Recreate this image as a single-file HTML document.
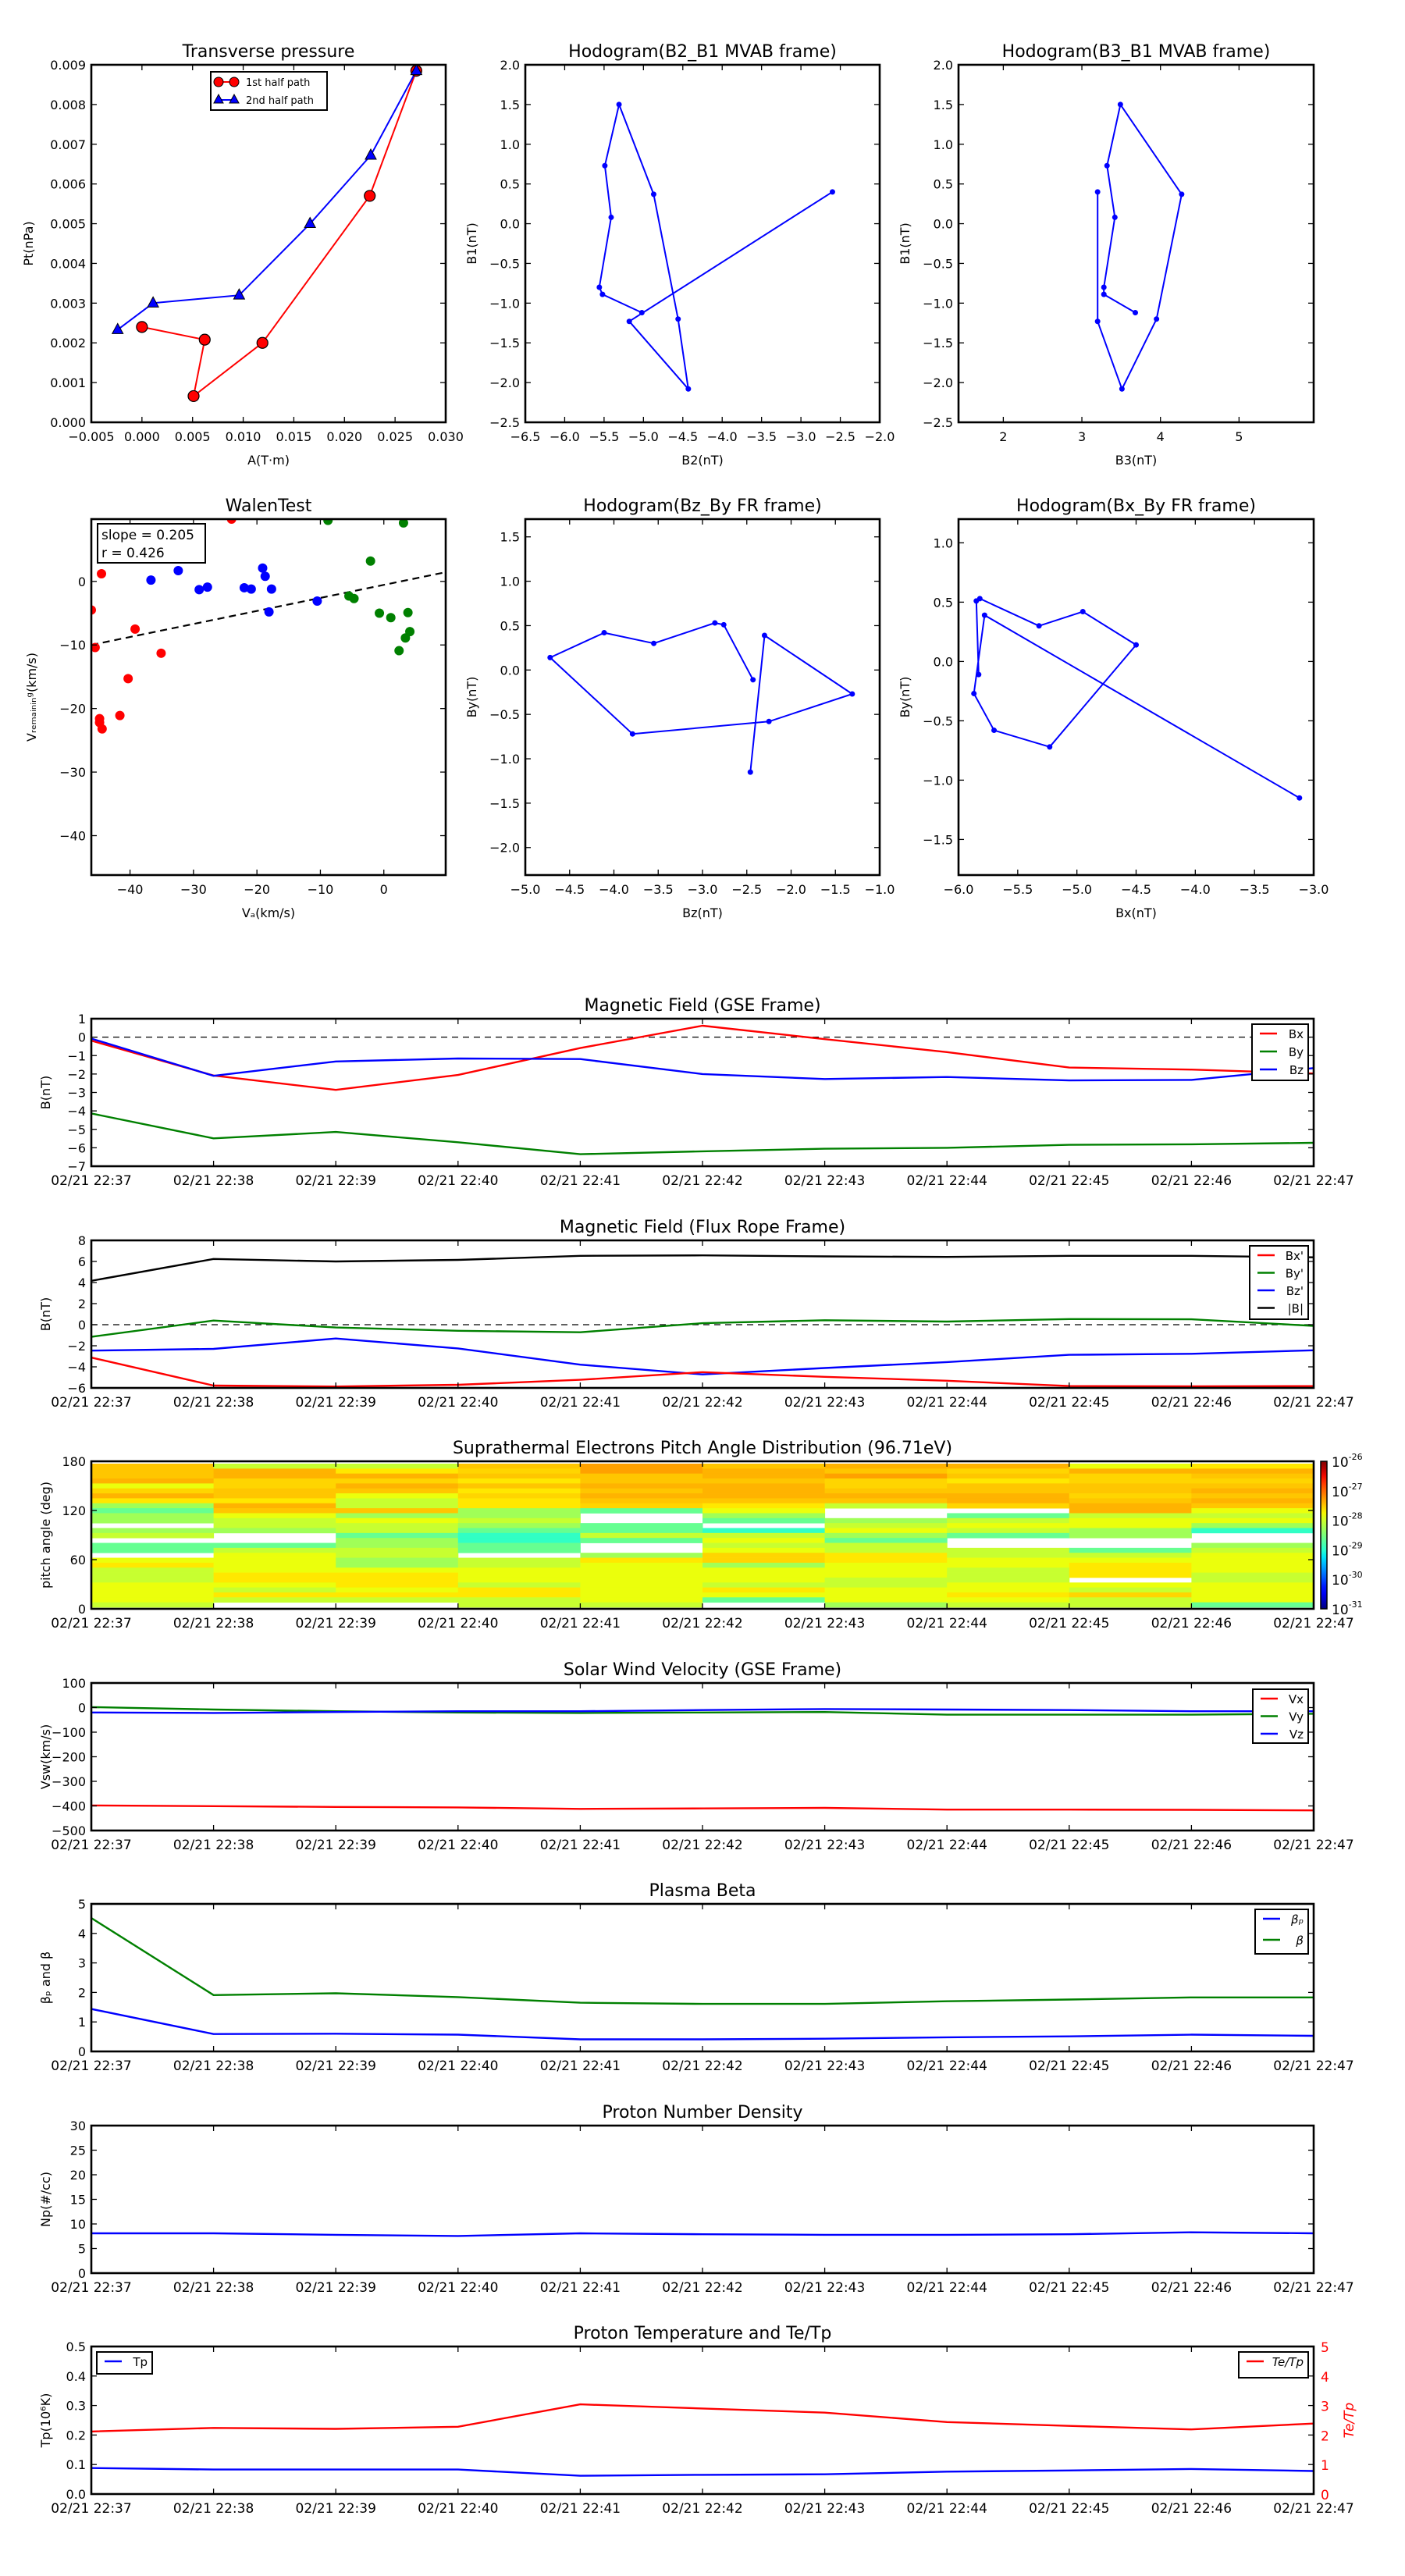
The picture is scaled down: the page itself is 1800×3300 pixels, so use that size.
<!DOCTYPE html>
<html><head><meta charset="utf-8"><style>
html,body{margin:0;padding:0;background:#fff;}
svg{display:block;font-family:"DejaVu Sans","Liberation Sans",sans-serif;}
</style></head><body>
<svg id="fig" width="1800" height="3300" viewBox="0 0 1800 3300" xmlns="http://www.w3.org/2000/svg"></svg>
<script>
// ---------- data ----------
const times = ['02/21 22:37','02/21 22:38','02/21 22:39','02/21 22:40','02/21 22:41','02/21 22:42','02/21 22:43','02/21 22:44','02/21 22:45','02/21 22:46','02/21 22:47'];
// transverse pressure
const tpA1 = [0.0000,0.0062,0.0051,0.0119,0.0225,0.0271];
const tpP1 = [0.00240,0.00208,0.00066,0.00200,0.00570,0.00885];
const tpA2 = [0.0271,0.0226,0.0166,0.0096,0.0011,-0.0024];
const tpP2 = [0.00885,0.00672,0.00500,0.00320,0.00300,0.00233];
// MVAB hodogram
const mvB1 = [0.40,-1.23,-2.08,-1.20,0.37,1.50,0.73,0.08,-0.80,-0.89,-1.12];
const mvB2 = [-2.60,-5.18,-4.43,-4.56,-4.87,-5.31,-5.49,-5.41,-5.56,-5.52,-5.02];
const mvB3 = [3.20,3.20,3.51,3.95,4.27,3.49,3.32,3.42,3.28,3.28,3.68];
// Walen test
const wRedVa = [-46.1,-45.5,-44.5,-39.2,-35.1,-40.3,-41.6,-44.8,-44.8,-44.4,-24.0];
const wRedVr = [-4.5,-10.4,1.2,-7.5,-11.3,-15.3,-21.1,-21.6,-22.2,-23.2,9.8];
const wGrnVa = [-8.8,3.1,-2.1,-5.5,-4.7,-0.7,1.1,3.8,4.1,3.4,2.4];
const wGrnVr = [9.6,9.2,3.2,-2.3,-2.7,-5.0,-5.7,-4.9,-7.9,-8.9,-10.9];
const wBluVa = [-36.7,-32.4,-29.1,-27.8,-22.0,-20.9,-19.1,-18.7,-17.7,-18.1,-10.5];
const wBluVr = [0.2,1.7,-1.3,-0.9,-1.0,-1.2,2.1,0.8,-1.2,-4.8,-3.1];
const walenSlope = 0.205;
const walenIntercept = -0.55;
// GSE field
const gseBx = [-0.19,-2.08,-2.86,-2.05,-0.59,0.62,-0.11,-0.81,-1.65,-1.76,-1.97];
const gseBy = [-4.14,-5.49,-5.14,-5.70,-6.35,-6.19,-6.05,-6.00,-5.84,-5.81,-5.73];
const gseBz = [-0.08,-2.10,-1.32,-1.16,-1.19,-2.00,-2.27,-2.16,-2.35,-2.32,-1.68];
// flux rope frame
const frBx = [-3.12,-5.78,-5.87,-5.70,-5.23,-4.50,-4.95,-5.32,-5.82,-5.85,-5.83];
const frBy = [-1.15,0.39,-0.27,-0.58,-0.72,0.14,0.42,0.30,0.53,0.51,-0.11];
const frBz = [-2.46,-2.30,-1.31,-2.25,-3.79,-4.72,-4.11,-3.55,-2.86,-2.76,-2.43];
const frBt = [4.16,6.24,6.00,6.15,6.53,6.58,6.48,6.43,6.53,6.53,6.39];
// pitch angle distribution: per time column, rows from 180deg downward; code -> log10 flux
const padCols = [
 'oooOeYOygGggwglwGGweyllleeeel',
 'lOOYYooyOoellgwwGleeeeyyelylw',
 'lyOYOoellogellGggllggeyyyeylw',
 'oYoyoyYyygglgGccGGwlleeelyyll',
 'RRooOoOoYGwwGGlGwwgyeeeeeeeel',
 'oOOoOOOoyegGwcleleYYgeeelyeGw',
 'OoRYYoOolwwglegGllyyeeelleeeg',
 'OYoyooOOYwGlelGwwlleellleeyel',
 'eOYYooYoOOleeggwwGleyyywelYll',
 'yOoYoOoOoelegcwwgleeeelleeeeG'
];
const padCodes = {R:-27.3,O:-27.4,o:-27.5,Y:-27.58,y:-27.68,e:-27.82,l:-28.04,g:-28.28,G:-28.63,c:-28.95};
// solar wind
const vx = [-398,-401,-404,-406,-412,-410,-408,-415,-415,-416,-418];
const vy = [2,-8,-15,-20,-22,-20,-18,-29,-29,-29,-25];
const vz = [-20,-22,-18,-15,-15,-10,-6,-8,-10,-15,-15];
// plasma beta
const betaP = [1.44,0.59,0.60,0.57,0.41,0.41,0.43,0.48,0.51,0.57,0.53];
const betaT = [4.52,1.91,1.97,1.84,1.65,1.61,1.61,1.70,1.76,1.83,1.83];
// density
const np = [8.1,8.1,7.8,7.55,8.1,7.9,7.8,7.8,7.9,8.3,8.1];
// temperature
const tp = [0.088,0.083,0.083,0.083,0.062,0.065,0.067,0.076,0.080,0.085,0.078];
const teTp = [2.12,2.24,2.21,2.28,3.04,2.90,2.76,2.44,2.31,2.19,2.39];

// ---------- helpers ----------
const NS='http://www.w3.org/2000/svg';
const fig=document.getElementById('fig');
function mk(parent,tag,attrs,name,inter){
  const e=document.createElementNS(NS,tag);
  for(const k in attrs) e.setAttribute(k,attrs[k]);
  
  
  parent.appendChild(e);
  return e;
}
function txt(parent,x,y,s,size,anchor,name,extra){
  const a={x:x,y:y,'font-size':size,'text-anchor':anchor||'middle',fill:'#000'};
  if(extra) for(const k in extra) a[k]=extra[k];
  const t=mk(parent,'text',a,name);
  t.textContent=s;
  return t;
}
function fmt(v,d){const s=Math.abs(v).toFixed(d);return (v<-1e-12?'\u2212':'')+s;}
function jet(t){
  t=Math.max(0,Math.min(1,t));
  function seg(pts){for(let i=1;i<pts.length;i++){if(t<=pts[i][0]){const a=pts[i-1],b=pts[i];return a[1]+(b[1]-a[1])*(t-a[0])/(b[0]-a[0]);}}return pts[pts.length-1][1];}
  const r=seg([[0,0],[0.35,0],[0.66,1],[0.89,1],[1,0.5]]);
  const g=seg([[0,0],[0.125,0],[0.375,1],[0.64,1],[0.91,0],[1,0]]);
  const b=seg([[0,0.5],[0.11,1],[0.34,1],[0.65,0],[1,0]]);
  return 'rgb('+Math.round(r*255)+','+Math.round(g*255)+','+Math.round(b*255)+')';
}
function makeAxes(o){
  const g=mk(fig,'g',{},o.name);
  const sx=v=>o.x0+(v-o.xmin)/(o.xmax-o.xmin)*(o.x1-o.x0);
  const sy=v=>o.y1-(v-o.ymin)/(o.ymax-o.ymin)*(o.y1-o.y0);
  const clipId='clip-'+o.name;
  const cp=mk(g,'clipPath',{id:clipId},'clip');
  mk(cp,'rect',{x:o.x0,y:o.y0,width:o.x1-o.x0,height:o.y1-o.y0},'clip-rect');
  const plot=mk(g,'g',{'clip-path':'url(#'+clipId+')'},'plot-area');
  const frame=mk(g,'g',{},'axes-frame');
  const tl=7;
  o.xticks.forEach((v,i)=>{
    const x=sx(v);
    mk(frame,'line',{x1:x,x2:x,y1:o.y1,y2:o.y1-tl,stroke:'#000','stroke-width':1.3},'x-tick');
    mk(frame,'line',{x1:x,x2:x,y1:o.y0,y2:o.y0+tl,stroke:'#000','stroke-width':1.3},'x-tick-top');
    txt(frame,x,o.y1+24,o.xlabels[i],o.tickSize||16,'middle','x-tick-label');
  });
  o.yticks.forEach((v,i)=>{
    const y=sy(v);
    mk(frame,'line',{x1:o.x0,x2:o.x0+tl,y1:y,y2:y,stroke:'#000','stroke-width':1.3},'y-tick');
    mk(frame,'line',{x1:o.x1,x2:o.x1-tl,y1:y,y2:y,stroke:'#000','stroke-width':1.3},'y-tick-right');
    txt(frame,o.x0-7,y+6,o.ylabels[i],16,'end','y-tick-label');
  });
  if(o.title) txt(g,(o.x0+o.x1)/2,o.y0-10,o.title,22,'middle','chart-title');
  if(o.xtitle) txt(g,(o.x0+o.x1)/2,o.y1+54,o.xtitle,16,'middle','x-axis-title');
  if(o.ytitle){const yx=o.ytx, yy=(o.y0+o.y1)/2;txt(g,yx,yy,o.ytitle,16,'middle','y-axis-title',{transform:'rotate(-90 '+yx+' '+yy+')'});}
  return {g,plot,frame,sx,sy,o};
}
function finishFrame(A){
  const o=A.o;
  mk(A.g,'rect',{x:o.x0,y:o.y0,width:o.x1-o.x0,height:o.y1-o.y0,fill:'none',stroke:'#000','stroke-width':2.6},'axes-border');
}
function line(A,xs,ys,color,w,name,dash){
  const pts=xs.map((x,i)=>A.sx(x).toFixed(1)+','+A.sy(ys[i]).toFixed(1)).join(' ');
  const a={points:pts,fill:'none',stroke:color,'stroke-width':w||2.4,'stroke-linejoin':'round'};
  if(dash) a['stroke-dasharray']=dash;
  return mk(A.plot,'polyline',a,name);
}
function dots(A,xs,ys,color,r,name,stroke){
  xs.forEach((x,i)=>{mk(A.plot,'circle',{cx:A.sx(x),cy:A.sy(ys[i]),r:r,fill:color,stroke:stroke||'none','stroke-width':1.2},name);});
}
function range(a,b,s){const r=[];for(let v=a;v<=b+1e-9;v+=s)r.push(Math.round(v*1e6)/1e6);return r;}
function legend(parent,x,y,w,h,items,name){
  const g=mk(parent,'g',{},name);
  mk(g,'rect',{x:x,y:y,width:w,height:h,fill:'#fff',stroke:'#000','stroke-width':2},'legend-box');
  items.forEach((it,i)=>{
    const cy=y+12+i*it.step;
    mk(g,'line',{x1:x+10,x2:x+32,y1:cy,y2:cy,stroke:it.color,'stroke-width':2.4},'legend-line');
    txt(g,x+w-6,cy+6,it.label,15,'end','legend-entry',it.style||{});
  });
  return g;
}

// ---------- row 1 & 2 scatter panels ----------
const colX=[[117,571],[673,1127],[1228,1683]];
const r1=[83,541], r2=[665,1121];
(function(){
  const xt=range(-0.005,0.030,0.005);
  const yt=range(0,0.009,0.001);
  const A=makeAxes({name:'transverse-pressure-chart',x0:colX[0][0],x1:colX[0][1],y0:r1[0],y1:r1[1],xmin:-0.005,xmax:0.030,ymin:0,ymax:0.009,
    xticks:xt,xlabels:xt.map(v=>fmt(v,3)),yticks:yt,ylabels:yt.map(v=>fmt(v,3)),title:'Transverse pressure',xtitle:'A(T\u00b7m)',ytitle:'Pt(nPa)',ytx:42});
  line(A,tpA1,tpP1,'#f00',2,'first-half-path-line');
  line(A,tpA2,tpP2,'#00f',2,'second-half-path-line');
  dots(A,tpA1,tpP1,'#f00',7,'first-half-point','#000');
  tpA2.forEach((a,i)=>{const x=A.sx(a),y=A.sy(tpP2[i]);mk(A.plot,'polygon',{points:(x)+','+(y-8)+' '+(x-7)+','+(y+5)+' '+(x+7)+','+(y+5),fill:'#00f',stroke:'#000','stroke-width':1},'second-half-point');});
  finishFrame(A);
  const lg=mk(A.g,'g',{},'legend');
  mk(lg,'rect',{x:270,y:92,width:149,height:49,fill:'#fff',stroke:'#000','stroke-width':2},'legend-box');
  mk(lg,'line',{x1:280,x2:300,y1:105,y2:105,stroke:'#f00','stroke-width':2},'legend-line');
  mk(lg,'circle',{cx:280,cy:105,r:6,fill:'#f00',stroke:'#000'},'legend-marker');
  mk(lg,'circle',{cx:300,cy:105,r:6,fill:'#f00',stroke:'#000'},'legend-marker');
  txt(lg,315,110,'1st half path',13,'start','legend-entry');
  mk(lg,'line',{x1:280,x2:300,y1:128,y2:128,stroke:'#00f','stroke-width':2},'legend-line');
  mk(lg,'polygon',{points:'280,121 274,132 286,132',fill:'#00f',stroke:'#000'},'legend-marker');
  mk(lg,'polygon',{points:'300,121 294,132 306,132',fill:'#00f',stroke:'#000'},'legend-marker');
  txt(lg,315,133,'2nd half path',13,'start','legend-entry');
})();
(function(){
  const xt=range(-6.5,-2.0,0.5), yt=range(-2.5,2.0,0.5);
  const A=makeAxes({name:'hodogram-b2-b1-chart',x0:colX[1][0],x1:colX[1][1],y0:r1[0],y1:r1[1],xmin:-6.5,xmax:-2.0,ymin:-2.5,ymax:2.0,
    xticks:xt,xlabels:xt.map(v=>fmt(v,1)),yticks:yt,ylabels:yt.map(v=>fmt(v,1)),title:'Hodogram(B2_B1 MVAB frame)',xtitle:'B2(nT)',ytitle:'B1(nT)',ytx:610});
  line(A,mvB2,mvB1,'#00f',2,'hodogram-line');
  dots(A,mvB2,mvB1,'#00f',3.5,'hodogram-point');
  finishFrame(A);
})();
(function(){
  const xt=[2,3,4,5], yt=range(-2.5,2.0,0.5);
  const A=makeAxes({name:'hodogram-b3-b1-chart',x0:colX[2][0],x1:colX[2][1],y0:r1[0],y1:r1[1],xmin:1.43,xmax:5.95,ymin:-2.5,ymax:2.0,
    xticks:xt,xlabels:xt.map(v=>String(v)),yticks:yt,ylabels:yt.map(v=>fmt(v,1)),title:'Hodogram(B3_B1 MVAB frame)',xtitle:'B3(nT)',ytitle:'B1(nT)',ytx:1165});
  line(A,mvB3,mvB1,'#00f',2,'hodogram-line');
  dots(A,mvB3,mvB1,'#00f',3.5,'hodogram-point');
  finishFrame(A);
})();
(function(){
  const xt=[-40,-30,-20,-10,0], yt=[-40,-30,-20,-10,0];
  const A=makeAxes({name:'walen-test-chart',x0:colX[0][0],x1:colX[0][1],y0:r2[0],y1:r2[1],xmin:-46.1,xmax:9.75,ymin:-46.2,ymax:9.8,
    xticks:xt,xlabels:xt.map(v=>fmt(v,0)),yticks:yt,ylabels:yt.map(v=>fmt(v,0)),title:'WalenTest',xtitle:'V\u2090(km/s)',ytitle:'V\u1d63\u2091\u2098\u2090\u1d62\u2099\u1d62\u2099\u1d4d(km/s)',ytx:46});
  const fx=[-46.1,9.75];
  line(A,fx,fx.map(v=>walenSlope*v+walenIntercept),'#000',2.2,'fit-line','9,6');
  dots(A,wRedVa,wRedVr,'#f00',6,'walen-point-red');
  dots(A,wGrnVa,wGrnVr,'#008000',6,'walen-point-green');
  dots(A,wBluVa,wBluVr,'#00f',6,'walen-point-blue');
  finishFrame(A);
  const b=mk(A.g,'g',{},'fit-stats-box');
  mk(b,'rect',{x:125,y:671,width:138,height:50,fill:'#fff',stroke:'#000','stroke-width':2},'stats-box');
  txt(b,130,691,'slope = '+walenSlope.toFixed(3),17,'start','slope-text');
  txt(b,130,714,'r = 0.426',17,'start','r-text');
})();
(function(){
  const xt=range(-5,-1,0.5), yt=range(-2.0,1.5,0.5);
  const A=makeAxes({name:'hodogram-bz-by-chart',x0:colX[1][0],x1:colX[1][1],y0:r2[0],y1:r2[1],xmin:-5,xmax:-1,ymin:-2.31,ymax:1.70,
    xticks:xt,xlabels:xt.map(v=>fmt(v,1)),yticks:yt,ylabels:yt.map(v=>fmt(v,1)),title:'Hodogram(Bz_By FR frame)',xtitle:'Bz(nT)',ytitle:'By(nT)',ytx:610});
  line(A,frBz,frBy,'#00f',2,'hodogram-line');
  dots(A,frBz,frBy,'#00f',3.5,'hodogram-point');
  finishFrame(A);
})();
(function(){
  const xt=range(-6,-3,0.5), yt=range(-1.5,1.0,0.5);
  const A=makeAxes({name:'hodogram-bx-by-chart',x0:colX[2][0],x1:colX[2][1],y0:r2[0],y1:r2[1],xmin:-6,xmax:-3,ymin:-1.80,ymax:1.20,
    xticks:xt,xlabels:xt.map(v=>fmt(v,1)),yticks:yt,ylabels:yt.map(v=>fmt(v,1)),title:'Hodogram(Bx_By FR frame)',xtitle:'Bx(nT)',ytitle:'By(nT)',ytx:1165});
  line(A,frBx,frBy,'#00f',2,'hodogram-line');
  dots(A,frBx,frBy,'#00f',3.5,'hodogram-point');
  finishFrame(A);
})();

// ---------- time series panels ----------
const TX0=117, TX1=1683, PH=189;
const tops=[1305,1589,1872,2156,2439,2723,3006];
const tIdx=times.map((t,i)=>i);
function tsAxes(name,k,ymin,ymax,yt,yl,title,ytitle){
  return makeAxes({name:name,x0:TX0,x1:TX1,y0:tops[k],y1:tops[k]+PH,xmin:0,xmax:10,ymin:ymin,ymax:ymax,
    xticks:tIdx,xlabels:times,yticks:yt,ylabels:yl,title:title,ytitle:ytitle,ytx:64,tickSize:17});
}
(function(){
  const yt=range(-7,1,1);
  const A=tsAxes('magnetic-field-gse-chart',0,-7,1,yt,yt.map(v=>fmt(v,0)),'Magnetic Field (GSE Frame)','B(nT)');
  line(A,[0,10],[0,0],'#000',1.2,'zero-line','8,6');
  line(A,tIdx,gseBy,'#008000',2.4,'by-line');
  line(A,tIdx,gseBx,'#f00',2.4,'bx-line');
  line(A,tIdx,gseBz,'#00f',2.4,'bz-line');
  finishFrame(A);
  legend(A.g,1604,1312,72,72,[{color:'#f00',label:'Bx',step:23},{color:'#008000',label:'By',step:23},{color:'#00f',label:'Bz',step:23}],'legend');
})();
(function(){
  const yt=range(-6,8,2);
  const A=tsAxes('magnetic-field-flux-rope-chart',1,-6,8,yt,yt.map(v=>fmt(v,0)),'Magnetic Field (Flux Rope Frame)','B(nT)');
  line(A,[0,10],[0,0],'#000',1.2,'zero-line','8,6');
  line(A,tIdx,frBt,'#000',2.4,'btotal-line');
  line(A,tIdx,frBy,'#008000',2.4,'by-prime-line');
  line(A,tIdx,frBz,'#00f',2.4,'bz-prime-line');
  line(A,tIdx,frBx,'#f00',2.4,'bx-prime-line');
  finishFrame(A);
  legend(A.g,1601,1596,75,94,[{color:'#f00',label:"Bx'",step:22.5},{color:'#008000',label:"By'",step:22.5},{color:'#00f',label:"Bz'",step:22.5},{color:'#000',label:'|B|',step:22.5}],'legend');
})();
(function(){
  const yt=[0,60,120,180];
  const A=tsAxes('pitch-angle-distribution-chart',2,0,180,yt,yt.map(String),'Suprathermal Electrons Pitch Angle Distribution (96.71eV)','pitch angle (deg)');
  const nRows=29, y0=tops[2]+3, rh=(PH-5)/nRows;
  padCols.forEach((col,ci)=>{
    const xa=A.sx(ci), xb=A.sx(ci+1);
    for(let r=0;r<nRows;r++){
      const c=col[r];
      if(!c||c==='w') continue;
      const v=padCodes[c];
      mk(A.plot,'rect',{x:xa.toFixed(1),y:(y0+r*rh).toFixed(2),width:(xb-xa+0.5).toFixed(1),height:(rh+0.4).toFixed(2),fill:jet((v+31)/5)},'pad-cell');
    }
  });
  finishFrame(A);
  const cb=mk(fig,'g',{},'colorbar');
  const defs=mk(cb,'defs',{},'defs');
  const lg=mk(defs,'linearGradient',{id:'jetgrad',x1:0,y1:1,x2:0,y2:0},'gradient');
  for(let i=0;i<=20;i++){mk(lg,'stop',{offset:(i/20),'stop-color':jet(i/20)},'stop');}
  const cy0=tops[2], cy1=tops[2]+PH;
  mk(cb,'rect',{x:1692,y:cy0,width:8,height:PH,fill:'url(#jetgrad)',stroke:'#000','stroke-width':1.5},'colorbar-bar');
  for(let e=-31;e<=-26;e++){
    const y=cy1-(e+31)/5*PH;
    const t=txt(cb,1706,y+7,'10',17,'start','colorbar-label');
    const s=mk(t,'tspan',{dy:-9,'font-size':11},'exponent');
    s.textContent=fmt(e,0).replace('\u2212','-');
  }
})();
(function(){
  const yt=range(-500,100,100);
  const A=tsAxes('solar-wind-velocity-chart',3,-500,100,yt,yt.map(v=>fmt(v,0)),'Solar Wind Velocity (GSE Frame)','Vsw(km/s)');
  line(A,tIdx,vx,'#f00',2.4,'vx-line');
  line(A,tIdx,vy,'#008000',2.4,'vy-line');
  line(A,tIdx,vz,'#00f',2.4,'vz-line');
  finishFrame(A);
  legend(A.g,1605,2164,71,69,[{color:'#f00',label:'Vx',step:22.5},{color:'#008000',label:'Vy',step:22.5},{color:'#00f',label:'Vz',step:22.5}],'legend');
})();
(function(){
  const yt=range(0,5,1);
  const A=tsAxes('plasma-beta-chart',4,0,5,yt,yt.map(String),'Plasma Beta','\u03b2\u209a and \u03b2');
  line(A,tIdx,betaT,'#008000',2.4,'beta-line');
  line(A,tIdx,betaP,'#00f',2.4,'beta-p-line');
  finishFrame(A);
  legend(A.g,1608,2446,68,57,[{color:'#00f',label:'\u03b2\u209a',step:27,style:{'font-style':'italic'}},{color:'#008000',label:'\u03b2',step:27,style:{'font-style':'italic'}}],'legend');
})();
(function(){
  const yt=range(0,30,5);
  const A=tsAxes('proton-density-chart',5,0,30,yt,yt.map(String),'Proton Number Density','Np(#/cc)');
  line(A,tIdx,np,'#00f',2.4,'density-line');
  finishFrame(A);
})();
(function(){
  const yt=range(0,0.5,0.1);
  const A=tsAxes('proton-temperature-chart',6,0,0.5,yt,yt.map(v=>v.toFixed(1)),'Proton Temperature and Te/Tp','Tp(10\u2076K)');
  const top=tops[6], bot=tops[6]+PH;
  const ry=v=>bot-v/5*PH;
  const pts=tIdx.map((t,i)=>A.sx(t).toFixed(1)+','+ry(teTp[i]).toFixed(1)).join(' ');
  mk(A.plot,'polyline',{points:pts,fill:'none',stroke:'#f00','stroke-width':2.4},'te-tp-line');
  line(A,tIdx,tp,'#00f',2.4,'tp-line');
  finishFrame(A);
  for(let v=0;v<=5;v++){txt(A.g,1692,ry(v)+7,String(v),17,'start','right-y-tick-label',{fill:'#f00'});}
  const yy=(top+bot)/2;
  txt(A.g,1734,yy,'Te/Tp',17,'middle','right-y-axis-title',{fill:'#f00','font-style':'italic',transform:'rotate(-90 1734 '+yy+')'});
  legend(A.g,124,3013,71,28,[{color:'#00f',label:'Tp',step:0}],'legend-tp');
  legend(A.g,1587,3013,89,33,[{color:'#f00',label:'Te/Tp',step:0,style:{'font-style':'italic'}}],'legend-te-tp');
})();
</script>
</body></html>
